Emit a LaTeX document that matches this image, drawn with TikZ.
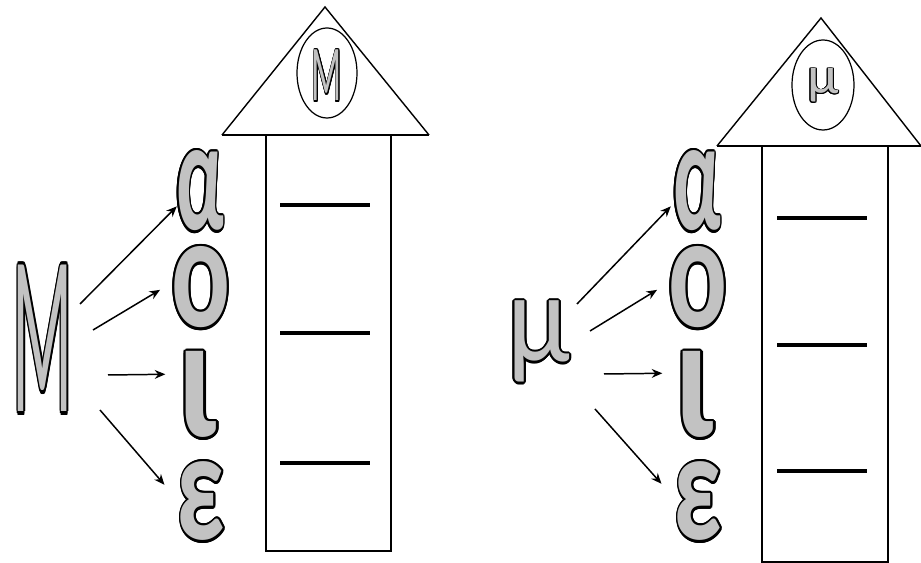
\documentclass[tikz,border=0pt]{standalone}
\usepackage{fontspec}
\newfontfamily\greekfont{Carlito}
\usepackage{contour}
\contourlength{0.8pt}
\usetikzlibrary{arrows.meta,calc}
\definecolor{lettergray}{gray}{0.76}
\newcommand{\outl}[1]{\contour{black}{\textcolor{lettergray}{#1}}}
\tikzset{
  greek/.style={inner sep=0pt, anchor=base, font=\greekfont\bfseries\fontsize{50}{50}\selectfont},
  big/.style={inner sep=0pt, anchor=base, font=\greekfont\fontsize{50}{50}\selectfont},
  arr/.style={-{Stealth[length=6pt,width=5pt]}, line width=0.85pt},
  roof/.style={line width=0.8pt},
  wall/.style={line width=0.7pt},
  blank/.style={line width=1.8pt},
}
\begin{document}
\begin{tikzpicture}[x=0.02cm, y=-0.02cm]
    \useasboundingbox (0,0) rectangle (921,563);

    % Maison du M
    \begin{scope}[shift={(0,0)}]
        \node[big, xscale=0.8, yscale=2.6] (bigM) at (43,412) {\outl{M}};
        \node[greek, xscale=0.92, yscale=1.82] (alpha) at (200,230) {\outl{α}};
        \node[greek, xscale=1.25, yscale=1.85] (omicron) at (201,327) {\outl{ο}};
        \node[greek, xscale=1.6, yscale=2.0] (iota) at (198,437) {\outl{ι}};
        \node[greek, xscale=1.2, yscale=1.8] (eps) at (201,540) {\outl{ε}};
        \coordinate (mA) at (80,304);
        \coordinate (mB) at (93,330);
        \coordinate (mC) at (108,375);
        \coordinate (mD) at (100,410);
        \draw[arr] (mA) -- ($(alpha.west)+(1,14)$);
        \draw[arr] (mB) -- ($(omicron.west)+(-11,1)$);
        \draw[arr] (mC) -- ($(iota.west)+(-12,-22)$);
        \draw[arr] (mD) -- ($(eps.west)+(-12,-18)$);
        % toit et corps
        \draw[roof] (222,135) -- (325,7) -- (429,135);
        \draw[roof, line width=1.4pt] (222,135) -- (429,135);
        \draw[wall] (327,73) ellipse [x radius=30, y radius=45];
        \node[big, xscale=0.4, yscale=0.9] (roofM) at (327,101) {\outl{M}};
        \draw[wall] (266,135) rectangle (391,551);
        \foreach \y in {205,333,463}
            \draw[blank] (280,\y) -- (370,\y);
    \end{scope}

    % Maison du mu
    \begin{scope}[shift={(497,0)}]
        \node[big, xscale=1.3, yscale=1.45] (bigMu) at (42,362) {\outl{μ}};
        \node[greek, xscale=0.92, yscale=1.82] (alpha) at (200,230) {\outl{α}};
        \node[greek, xscale=1.25, yscale=1.85] (omicron) at (201,327) {\outl{ο}};
        \node[greek, xscale=1.6, yscale=2.0] (iota) at (198,437) {\outl{ι}};
        \node[greek, xscale=1.2, yscale=1.8] (eps) at (201,540) {\outl{ε}};
        \coordinate (uA) at (80,304);
        \coordinate (uB) at (93,331);
        \coordinate (uC) at (107,374);
        \coordinate (uD) at (98,409);
        \draw[arr] (uA) -- ($(alpha.west)+(-2,14)$);
        \draw[arr] (uB) -- ($(omicron.west)+(-11,1)$);
        \draw[arr] (uC) -- ($(iota.west)+(-12,-23)$);
        \draw[arr] (uD) -- ($(eps.west)+(-12,-19)$);
        % toit et corps
        \draw[roof] (220,146) -- (324,18) -- (424,146);
        \draw[roof, line width=1.4pt] (220,146) -- (424,146);
        \draw[wall] (326,85) ellipse [x radius=31, y radius=45];
        \node[big, xscale=0.65, yscale=0.6] (roofMu) at (326,94) {\outl{μ}};
        \draw[wall] (265,146) rectangle (391,562);
        \foreach \y in {218,345,471}
            \draw[blank] (280,\y) -- (370,\y);
    \end{scope}
\end{tikzpicture}
\end{document}
